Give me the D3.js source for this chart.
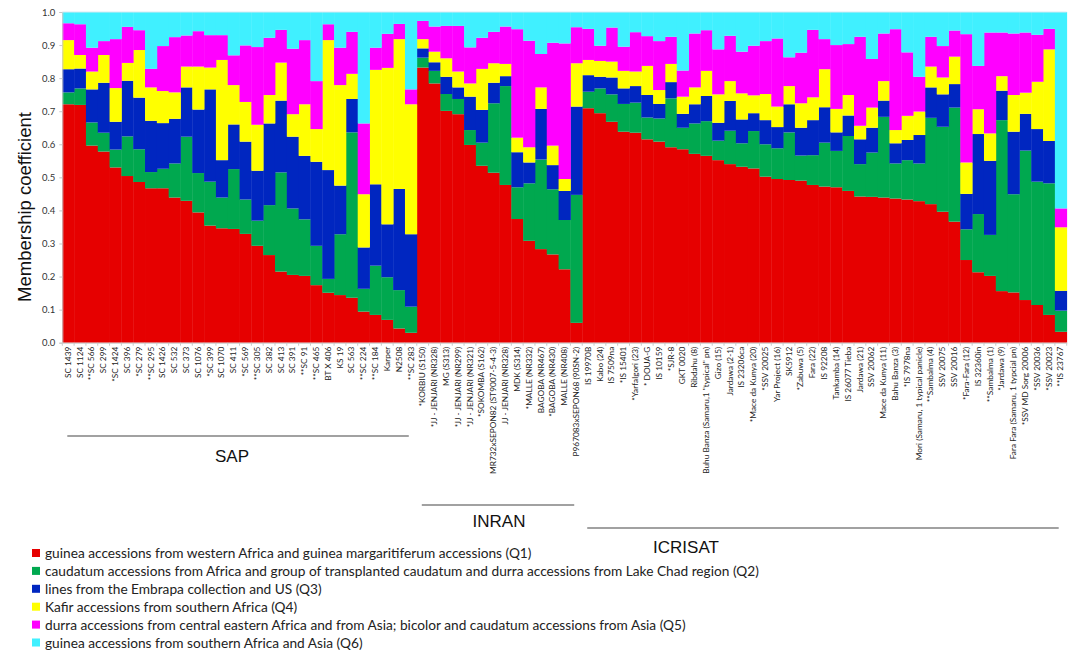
<!DOCTYPE html>
<html>
<head>
<meta charset="utf-8">
<script src="https://cdn.jsdelivr.net/npm/d3@7"></script>
<style>
  body { margin: 0; background: #fff; }
  svg text { font-family: Lato, "Liberation Sans", sans-serif; }
</style>
</head>
<body>
<div id="chart"></div>
<script>
// accession names, left to right
var accessions = [
  "SC 1439", "SC 1124", "**SC 566", "SC 299", "*SC 1424", "SC 396", "*SC 279", "**SC 295", "SC 1426", "SC 532",
  "SC 373", "SC 1076", "*SC 399", "SC 1070", "SC 411", "*SC 569", "**SC 305", "SC 382", "SC 413", "SC 391",
  "**SC 91", "**SC 465", "BT X 406", "KS 19", "SC 563", "**SC 224", "**SC 184", "Karper", "N2508", "**SC 283",
  "*KORBIU (S150)", "*JJ - JENJARI (NR328)", "MG (S313)", "*JJ - JENJARI (NR299)", "*JJ - JENJARI (NR321)",
  "*SOKOMBA (S162)", "MR732xSEPON82 (ST9007-5-4-3)", "JJ - JENJARI (NR328)", "MDK (S314)", "*MALLE (NR332)",
  "BAGOBA (NR467)", "*BAGOBA (NR430)", "MALLE (NR408)", "P967083xSEPON68 (90SN-2)",
  "IS 19970B", "Kabo (24)", "IS 7509na", "*IS 15401", "*Yarfalgori (23)", "* DOUA-G", "IS 10159", "*SJR-8",
  "GKT 0020", "Ribdahu (8)", "Buhu Banza (Samaru,1 \"typical\" pn)", "Gizo (15)", "Jardawa (2-1)", "IS 23206ca",
  "*Mace da Kunya (20)", "*SSV 20025", "Yar Project (16)", "SK5912", "*Zabuwa (5)", "Fara (22)", "IS 92208",
  "Tankamba (14)", "IS 26077 Tieba", "Jardawa (21)", "SSV 20062", "Mace da Kunya (11)", "Bahu Banza (3)",
  "*IS 7978na", "Mori (Samaru, 1 typical panicle)", "**Sambalma (4)", "SSV 20075", "SSV 20016", "*Fara-Fara (12)",
  "IS 32360in", "**Sambalma (1)", "*Jardawa (9)", "Fara Fara (Samaru, 1 typcial pn)", "*SSV MD Sorg 20006",
  "*SSV 20036", "*SSV 20023", "**IS 23767"
];

// membership coefficients per cluster
var q1 = [.721,.719,.596,.578,.530,.504,.486,.467,.467,.439,.429,.394,.354,.346,.344,.329,.293,.265,.215,.205,
          .202,.174,.151,.144,.136,.094,.084,.069,.043,.030,
          .832,.784,.701,.691,.598,.535,.514,.477,.374,.308,.283,.267,.222,.060,
          .709,.694,.668,.638,.635,.615,.608,.591,.585,.571,.565,.552,.540,.532,.527,.502,.495,.492,.490,.477,
          .472,.470,.459,.442,.441,.439,.436,.433,.428,.419,.396,.366,.250,.213,.202,.156,.152,.129,.114,.084,.033];
var q2 = [.036,.050,.070,.057,.054,.120,.099,.049,.059,.103,.194,.119,.133,.093,.181,.104,.076,.151,.300,.201,
          .171,.119,.042,.184,.500,.069,.149,.129,.116,.079,
          .030,.038,.051,.046,.045,.070,.210,.299,.096,.174,.271,.197,.149,.387,
          .050,.075,.083,.084,.091,.066,.070,.148,.065,.092,.105,.059,.101,.071,.113,.098,.093,.144,.076,.090,
          .133,.110,.166,.098,.134,.244,.106,.119,.114,.261,.257,.345,.093,.176,.124,.517,.297,.452,.373,.398,.064];
var q3 = [.070,.060,.100,.151,.084,.168,.156,.155,.138,.135,.149,.192,.279,.113,.135,.175,.151,.247,.217,.217,
          .192,.254,.329,.147,.101,.125,.246,.160,.306,.219,
          .028,.026,.052,.035,.101,.099,.062,.030,.106,.063,.153,.073,.088,.267,
          .050,.035,.051,.047,.050,.068,.044,.049,.042,.058,.076,.054,.090,.072,.054,.073,.064,.085,.084,.106,
          .107,.056,.062,.075,.075,.049,.061,.061,.086,.092,.098,.071,.107,.242,.224,.089,.189,.111,.159,.128,.060];
var q4 = [.088,.041,.054,.084,.102,.054,.144,.101,.097,.080,.063,.130,.066,.303,.119,.120,.139,.086,.115,.068,
          .156,.099,.393,.304,.076,.161,.346,.473,.453,.393,
          .028,.032,.056,.048,.040,.124,.059,.037,.044,.046,.065,.059,.036,.131,
          .046,.048,.048,.053,.044,.088,.042,.055,.052,.051,.076,.086,.060,.079,.054,.079,.062,.055,.074,.069,
          .115,.071,.062,.041,.061,.059,.040,.073,.071,.063,.051,.083,.095,.075,.083,.044,.111,.064,.143,.277,.192];
var q5 = [.051,.093,.072,.042,.148,.109,.060,.056,.136,.167,.094,.107,.098,.075,.090,.171,.235,.173,.099,.198,
          .194,.145,.048,.113,.127,.214,.067,.103,.046,.045,
          .055,.076,.098,.138,.109,.094,.095,.113,.328,.322,.101,.311,.410,.109,
          .094,.046,.103,.073,.119,.090,.148,.082,.079,.163,.123,.136,.137,.126,.150,.160,.206,.087,.153,.204,
          .091,.193,.154,.269,.147,.144,.305,.192,.105,.090,.095,.079,.388,.131,.305,.132,.186,.182,.142,.062,.057];
var q6 = [.034,.037,.108,.088,.082,.045,.055,.172,.103,.076,.071,.058,.070,.070,.131,.101,.106,.078,.054,.111,
          .085,.209,.037,.108,.060,.337,.108,.066,.036,.234,
          .027,.044,.042,.042,.107,.078,.060,.044,.052,.087,.127,.093,.095,.046,
          .051,.102,.047,.105,.061,.073,.088,.075,.177,.065,.055,.113,.072,.120,.102,.088,.080,.137,.123,.054,
          .082,.100,.097,.075,.142,.065,.052,.122,.196,.075,.103,.056,.067,.163,.062,.062,.065,.062,.069,.051,.594];

var clusters = ["Q1", "Q2", "Q3", "Q4", "Q5", "Q6"];
var colors = ["#e60000", "#00a84f", "#0026c0", "#ffff00", "#ff00ff", "#40f0ff"];
var legendLabels = [
  "guinea accessions from western Africa and guinea margaritiferum accessions (Q1)",
  "caudatum accessions from Africa and group of transplanted caudatum and durra accessions from Lake Chad region (Q2)",
  "lines from the Embrapa collection and US (Q3)",
  "Kafir accessions from southern Africa (Q4)",
  "durra accessions from central eastern Africa and from Asia; bicolor and caudatum accessions from Asia (Q5)",
  "guinea accessions from southern Africa and Asia (Q6)"
];
var yTicks = [0, 0.1, 0.2, 0.3, 0.4, 0.5, 0.6, 0.7, 0.8, 0.9, 1.0];

// collections: name, first and last bar index
var groupNames = ["SAP", "INRAN", "ICRISAT"];
var groupStart = [0, 30, 44];
var groupEnd = [29, 43, 84];

var width = 1072, height = 652;
var plotLeft = 62.3, plotRight = 1066.7, plotTop = 12, plotBottom = 342.7;

var svg = d3.select("#chart").append("svg")
    .attr("width", width)
    .attr("height", height);

var table = accessions.map(function(name, i) {
  return {i: i, name: name, Q1: q1[i], Q2: q2[i], Q3: q3[i], Q4: q4[i], Q5: q5[i], Q6: q6[i]};
});

var xScale = d3.scaleBand()
    .domain(d3.range(accessions.length))
    .range([plotLeft, plotRight])
    .padding(0);

var yScale = d3.scaleLinear()
    .domain([0, 1])
    .range([plotBottom, plotTop]);

var stack = d3.stack().keys(clusters);
var layers = stack(table);

svg.append("g").selectAll("g")
  .data(layers)
  .enter().append("g")
    .attr("fill", (d, k) => colors[k])
  .selectAll("rect")
  .data(d => d)
  .enter().append("rect")
    .attr("x", d => xScale(d.data.i))
    .attr("width", xScale.bandwidth() + 0.4)
    .attr("y", d => yScale(d[1]))
    .attr("height", d => yScale(d[0]) - yScale(d[1]));

// y axis
var yAxis = d3.axisLeft(yScale)
    .tickValues(yTicks)
    .tickFormat(d3.format(".1f"))
    .tickSize(3);

var yg = svg.append("g")
    .attr("transform", `translate(${plotLeft},0)`)
    .call(yAxis);
yg.select(".domain").attr("stroke", "#c8c8c8");
yg.selectAll(".tick line").attr("stroke", "#c8c8c8");
yg.selectAll(".tick text")
    .attr("fill", "#333")
    .style("font-size", "9.5px")
    .attr("x", -7);

// top border line
svg.append("line")
    .attr("x1", plotLeft).attr("x2", plotRight)
    .attr("y1", plotTop).attr("y2", plotTop)
    .attr("stroke", "#d8e8f0");

// x axis with rotated accession names
var xAxis = d3.axisBottom(xScale)
    .tickSize(0)
    .tickFormat(i => accessions[i]);

var xg = svg.append("g")
    .attr("transform", `translate(0,${plotBottom})`)
    .call(xAxis);
xg.select(".domain").attr("stroke", "#c8c8c8");
xg.selectAll(".tick text")
    .attr("transform", "rotate(-90)")
    .attr("x", -4)
    .attr("y", 0)
    .attr("dy", "0.32em")
    .attr("text-anchor", "end")
    .attr("fill", "#222")
    .style("font-size", "8.3px");

// small ticks on bar borders
svg.append("g").selectAll("line")
  .data(d3.range(accessions.length + 1))
  .enter().append("line")
    .attr("x1", i => plotLeft + i * xScale.bandwidth())
    .attr("x2", i => plotLeft + i * xScale.bandwidth())
    .attr("y1", plotBottom)
    .attr("y2", plotBottom + 3)
    .attr("stroke", "#c8c8c8");

// y title
svg.append("text")
    .attr("transform", "translate(31,207) rotate(-90)")
    .attr("text-anchor", "middle")
    .style("font-family", "Arial, 'Liberation Sans', sans-serif")
    .style("font-size", "18.5px")
    .attr("fill", "#111")
    .text("Membership coefficient");

// collection brackets
var groupLineY = [436, 505, 528];
var groupTextX = [232, 499, 686];
var groupTextY = [462, 527, 553];
groupNames.forEach(function(g, k) {
  svg.append("line")
      .attr("x1", xScale(groupStart[k]) + 5)
      .attr("x2", xScale(groupEnd[k]) + xScale.bandwidth() - 8)
      .attr("y1", groupLineY[k])
      .attr("y2", groupLineY[k])
      .attr("stroke", "#444")
      .attr("stroke-width", 1.2);
  svg.append("text")
      .attr("x", groupTextX[k])
      .attr("y", groupTextY[k])
      .attr("text-anchor", "middle")
      .style("font-family", "Arial, 'Liberation Sans', sans-serif")
      .style("font-size", "17px")
      .attr("fill", "#111")
      .text(g);
});

// legend
var legend = svg.append("g")
    .attr("transform", "translate(32,553)");
var rows = legend.selectAll("g")
  .data(legendLabels)
  .enter().append("g")
    .attr("transform", (d, k) => `translate(0,${k * 17.9})`);
rows.append("rect")
    .attr("x", 0).attr("y", -4)
    .attr("width", 8).attr("height", 8)
    .attr("fill", (d, k) => colors[k]);
rows.append("text")
    .attr("x", 13)
    .attr("y", 5)
    .style("font-size", "13.7px")
    .attr("fill", "#222")
    .text(d => d);
</script>
</body>
</html>
